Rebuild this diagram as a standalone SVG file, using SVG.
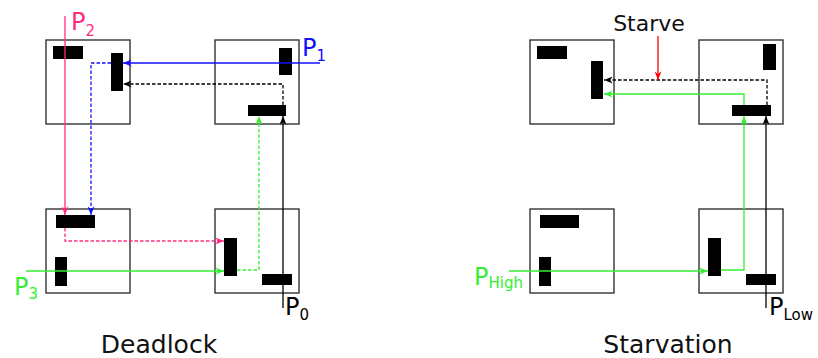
<svg xmlns="http://www.w3.org/2000/svg" width="818" height="358" viewBox="0 0 818 358">
<style>
.box{fill:#fff;stroke:#333;stroke-width:1.4}
.bar{fill:#000}
.c{fill:none;stroke-width:1.3}
.d{stroke-dasharray:3.5,2}
.k{stroke:#000}.b{stroke:#1010ff}.p{stroke:#ff2a80}.g{stroke:#33ee33}.r{stroke:#ff0000}
text{font-family:"DejaVu Sans","Liberation Sans",sans-serif}
.lbl{font-size:24px}
.sub{font-size:15px}
.cap{font-size:25px;fill:#111}
</style>
<defs>
<marker id="ak" viewBox="0 0 10 8" refX="10" refY="4" markerWidth="9" markerHeight="7" markerUnits="userSpaceOnUse" orient="auto"><path d="M0,0 L10,4 L0,8 L3,4 Z" fill="#000"/></marker>
<marker id="ab" viewBox="0 0 10 8" refX="10" refY="4" markerWidth="9" markerHeight="7" markerUnits="userSpaceOnUse" orient="auto"><path d="M0,0 L10,4 L0,8 L3,4 Z" fill="#1010ff"/></marker>
<marker id="ap" viewBox="0 0 10 8" refX="10" refY="4" markerWidth="9" markerHeight="7" markerUnits="userSpaceOnUse" orient="auto"><path d="M0,0 L10,4 L0,8 L3,4 Z" fill="#ff2a80"/></marker>
<marker id="ag" viewBox="0 0 10 8" refX="10" refY="4" markerWidth="9" markerHeight="7" markerUnits="userSpaceOnUse" orient="auto"><path d="M0,0 L10,4 L0,8 L3,4 Z" fill="#33ee33"/></marker>
<marker id="ar" viewBox="0 0 10 8" refX="10" refY="4" markerWidth="9" markerHeight="7" markerUnits="userSpaceOnUse" orient="auto"><path d="M0,0 L10,4 L0,8 L3,4 Z" fill="#ff0000"/></marker>
</defs>

<!-- Deadlock nodes -->
<g id="d-tl"><rect class="box" x="46" y="40" width="84" height="84"/><rect class="bar" x="53" y="46" width="30" height="13"/><rect class="bar" x="111" y="53" width="12" height="38"/></g>
<g id="d-tr"><rect class="box" x="215" y="40" width="84" height="84"/><rect class="bar" x="279" y="48" width="13" height="27"/><rect class="bar" x="248" y="105" width="38" height="11"/></g>
<g id="d-bl"><rect class="box" x="46" y="209" width="84" height="84"/><rect class="bar" x="56" y="215" width="39" height="13"/><rect class="bar" x="55" y="257" width="12" height="29"/></g>
<g id="d-br"><rect class="box" x="215" y="209" width="84" height="84"/><rect class="bar" x="224" y="238" width="13" height="38"/><rect class="bar" x="262" y="274" width="30" height="11"/></g>

<!-- Starvation nodes -->
<g id="s-tl"><rect class="box" x="530" y="40" width="84" height="84"/><rect class="bar" x="537" y="46" width="30" height="13"/><rect class="bar" x="591" y="61" width="12" height="38"/></g>
<g id="s-tr"><rect class="box" x="699" y="40" width="84" height="84"/><rect class="bar" x="763" y="44" width="13" height="26"/><rect class="bar" x="732" y="105" width="39" height="11"/></g>
<g id="s-bl"><rect class="box" x="530" y="209" width="84" height="84"/><rect class="bar" x="540" y="215" width="39" height="13"/><rect class="bar" x="539" y="257" width="12" height="29"/></g>
<g id="s-br"><rect class="box" x="699" y="209" width="84" height="84"/><rect class="bar" x="708" y="238" width="13" height="38"/><rect class="bar" x="746" y="274" width="30" height="11"/></g>

<g id="connectors">
<path class="c p" d="M65,16 V215" marker-end="url(#ap)"/>
<path class="c p d" d="M65,228 V241 H224" marker-end="url(#ap)"/>
<path class="c b" d="M320,63 H123" marker-end="url(#ab)"/>
<path class="c b d" d="M111,63 H91 V215" marker-end="url(#ab)"/>
<path class="c k d" d="M283,105 V84 H123" marker-end="url(#ak)"/>
<path class="c g" d="M26,271 H224" marker-end="url(#ag)"/>
<path class="c g d" d="M237,270 H259 V116" marker-end="url(#ag)"/>
<path class="c k" d="M283,308 V116" marker-end="url(#ak)"/>

<path class="c g" d="M509,271 H708" marker-end="url(#ag)"/>
<path class="c g" d="M721,270 H744 V116" marker-end="url(#ag)"/>
<path class="c k" d="M766,308 V116" marker-end="url(#ak)"/>
<path class="c k d" d="M767,105 V80 H604" marker-end="url(#ak)"/>
<path class="c g" d="M744,105 V94 H604" marker-end="url(#ag)"/>
<path class="c r" d="M658,36 V80" marker-end="url(#ar)"/>
</g>

<g id="labels">
<text class="lbl" x="71" y="30" fill="#ff2a80">P<tspan class="sub" dy="6">2</tspan></text>
<text class="lbl" x="302" y="56" fill="#1010ff">P<tspan class="sub" dy="5">1</tspan></text>
<text class="lbl" x="14" y="295" fill="#33ee33">P<tspan class="sub" dy="4">3</tspan></text>
<text class="lbl" x="285" y="315" fill="#000">P<tspan class="sub" dy="5">0</tspan></text>
<text class="lbl" x="474" y="285" fill="#33ee33">P<tspan class="sub" dy="3">High</tspan></text>
<text class="lbl" x="769" y="315" fill="#000">P<tspan class="sub" dy="5">Low</tspan></text>
<text x="649" y="31" font-size="22" fill="#111" text-anchor="middle">Starve</text>
<text class="cap" x="159" y="353" text-anchor="middle">Deadlock</text>
<text class="cap" x="668" y="353" text-anchor="middle">Starvation</text>
</g>
</svg>
